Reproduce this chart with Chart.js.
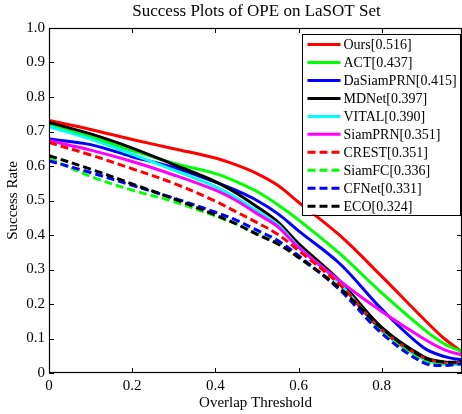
<!DOCTYPE html>
<html>
<head>
<meta charset="utf-8">
<script src="https://cdn.jsdelivr.net/npm/chart.js@4.4.1/dist/chart.umd.min.js"></script>
<style>
html,body{margin:0;padding:0;background:#fff;}
canvas{display:block;}
</style>
</head>
<body>
<canvas id="c" width="462" height="414" style="width:462px;height:414px"></canvas>
<script>
// ---- data ----
const thresholds = [0, 0.1, 0.2, 0.3, 0.4, 0.45, 0.5, 0.55, 0.6, 0.7, 0.8, 0.9, 0.95, 1.0];
const trackerNames = ["Ours[0.516]", "ACT[0.437]", "DaSiamPRN[0.415]", "MDNet[0.397]", "VITAL[0.390]",
                      "SiamPRN[0.351]", "CREST[0.351]", "SiamFC[0.336]", "CFNet[0.331]", "ECO[0.324]"];
const ours      = [0.732, 0.706, 0.677, 0.650, 0.623, 0.603, 0.578, 0.544, 0.495, 0.398, 0.280, 0.158, 0.100, 0.055];
const act       = [0.718, 0.684, 0.645, 0.608, 0.578, 0.555, 0.526, 0.488, 0.444, 0.345, 0.232, 0.128, 0.085, 0.058];
const dasiamprn = [0.678, 0.662, 0.627, 0.596, 0.553, 0.529, 0.500, 0.462, 0.412, 0.316, 0.185, 0.074, 0.048, 0.036];
const mdnet     = [0.726, 0.693, 0.652, 0.604, 0.555, 0.522, 0.482, 0.438, 0.375, 0.266, 0.132, 0.048, 0.032, 0.030];
const vital     = [0.714, 0.678, 0.634, 0.588, 0.540, 0.508, 0.470, 0.430, 0.366, 0.258, 0.122, 0.040, 0.025, 0.026];
const siamprn   = [0.674, 0.646, 0.613, 0.574, 0.530, 0.500, 0.462, 0.424, 0.364, 0.266, 0.178, 0.100, 0.068, 0.050];
const crest     = [0.668, 0.632, 0.592, 0.550, 0.498, 0.467, 0.436, 0.402, 0.355, 0.255, 0.125, 0.045, 0.030, 0.030];
const siamfc    = [0.622, 0.570, 0.530, 0.497, 0.455, 0.432, 0.404, 0.376, 0.336, 0.243, 0.120, 0.035, 0.026, 0.030];
const cfnet     = [0.615, 0.581, 0.544, 0.507, 0.466, 0.443, 0.414, 0.384, 0.340, 0.240, 0.115, 0.030, 0.022, 0.028];
const eco       = [0.630, 0.591, 0.548, 0.505, 0.458, 0.432, 0.402, 0.374, 0.335, 0.245, 0.130, 0.045, 0.032, 0.033];
const xTicks = [0, 0.2, 0.4, 0.6, 0.8];
const yTicks = [0, 0.1, 0.2, 0.3, 0.4, 0.5, 0.6, 0.7, 0.8, 0.9, 1.0];

const seriesValues = [ours, act, dasiamprn, mdnet, vital, siamprn, crest, siamfc, cfnet, eco];
const colors = ["#ff0000", "#00ff00", "#0000ff", "#000000", "#00ffff", "#ff00ff",
                "#ff0000", "#00ff00", "#0000ff", "#000000"];
const dashed = [false, false, false, false, false, false, true, true, true, true];

const SERIF = '"Liberation Serif", "Times New Roman", serif';

const datasets = seriesValues.map((vals, i) => ({
  label: trackerNames[i],
  data: vals.map((v, k) => ({x: thresholds[k], y: v})),
  borderColor: colors[i],
  backgroundColor: colors[i],
  borderWidth: 3,
  borderDash: dashed[i] ? [8, 4] : [],
  pointRadius: 0,
  fill: false,
  tension: 0.35,
  order: seriesValues.length - i
}));

const fmt = v => (Math.abs(v) < 1e-9 ? "0" : v.toFixed(1));

const framePlugin = {
  id: 'frame',
  afterDatasetsDraw(chart) {
    const {ctx, chartArea: a, scales} = chart;
    ctx.save();
    ctx.strokeStyle = '#000';
    ctx.lineWidth = 1.2;
    ctx.setLineDash([]);
    ctx.strokeRect(a.left + 0.5, a.top + 0.5, a.right - a.left - 1, a.bottom - a.top - 1);
    const tl = 5;
    ctx.lineWidth = 1;
    ctx.beginPath();
    xTicks.forEach(t => {
      const px = Math.round(scales.x.getPixelForValue(t)) + 0.5;
      ctx.moveTo(px, a.bottom); ctx.lineTo(px, a.bottom - tl);
      ctx.moveTo(px, a.top); ctx.lineTo(px, a.top + tl);
    });
    yTicks.forEach(t => {
      const py = Math.round(scales.y.getPixelForValue(t)) + 0.5;
      ctx.moveTo(a.left, py); ctx.lineTo(a.left + tl, py);
      ctx.moveTo(a.right, py); ctx.lineTo(a.right - tl, py);
    });
    ctx.stroke();

    // legend box
    const lw = 158, lh = 181;
    const lx = a.right - 2 - lw, ly = a.top + 5.5;
    ctx.fillStyle = '#fff';
    ctx.fillRect(lx, ly, lw, lh);
    ctx.lineWidth = 1;
    ctx.strokeStyle = '#000';
    ctx.strokeRect(Math.round(lx) + 0.5, Math.round(ly) + 0.5, lw, lh);
    ctx.font = '14px ' + SERIF;
    ctx.textBaseline = 'middle';
    ctx.textAlign = 'left';
    chart.data.datasets.forEach((ds, i) => {
      const cy = ly + 11 + i * 17.97;
      ctx.beginPath();
      ctx.strokeStyle = ds.borderColor;
      ctx.lineWidth = 3;
      ctx.setLineDash(ds.borderDash);
      ctx.moveTo(lx + 5.5, cy); ctx.lineTo(lx + 38.5, cy);
      ctx.stroke();
      ctx.setLineDash([]);
      ctx.fillStyle = '#000';
      ctx.fillText(ds.label, lx + 41.5, cy + 1);
    });

    // title
    ctx.font = '17px ' + SERIF;
    ctx.fillStyle = '#000';
    ctx.textAlign = 'center';
    ctx.textBaseline = 'middle';
    ctx.fillText('Success Plots of OPE on LaSOT Set', (a.left + a.right) / 2 + 1, 12);
    ctx.restore();
  }
};

new Chart(document.getElementById('c'), {
  type: 'line',
  data: { datasets },
  options: {
    responsive: false,
    devicePixelRatio: 1,
    animation: false,
    events: [],
    layout: { padding: { top: 28, right: 0, left: 0, bottom: 0 } },
    plugins: { legend: { display: false }, tooltip: { enabled: false }, title: { display: false } },
    scales: {
      x: {
        type: 'linear', min: 0, max: 0.993,
        afterBuildTicks: s => { s.ticks = xTicks.map(v => ({value: v})); },
        afterFit: s => { s.height = 41; },
        grid: { display: false, drawTicks: false },
        border: { display: false },
        ticks: { color: '#000', font: { family: SERIF, size: 15 }, padding: 4, maxRotation: 0, callback: v => fmt(v) },
        title: { display: true, text: 'Overlap Threshold', color: '#000', font: { family: SERIF, size: 15 }, padding: { top: 0, bottom: 2 } }
      },
      y: {
        type: 'linear', min: 0, max: 1,
        afterBuildTicks: s => { s.ticks = yTicks.map(v => ({value: v})); },
        afterFit: s => { s.width = 49; },
        grid: { display: false, drawTicks: false },
        border: { display: false },
        ticks: { color: '#000', font: { family: SERIF, size: 15 }, padding: 4, callback: v => fmt(v) },
        title: { display: true, text: 'Success Rate', color: '#000', font: { family: SERIF, size: 15 }, padding: { top: 4, bottom: 0 } }
      }
    }
  },
  plugins: [framePlugin]
});
</script>
</body>
</html>
